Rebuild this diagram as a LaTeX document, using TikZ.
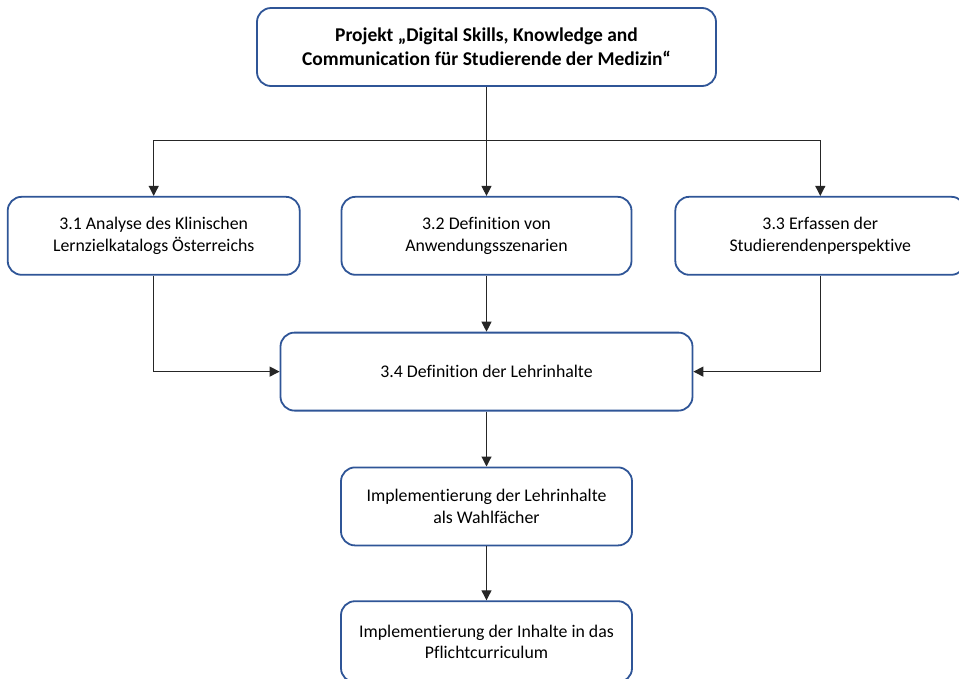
\documentclass[tikz,border=0pt]{standalone}
\usepackage{fontspec}
\setmainfont[Ligatures=NoCommon]{Carlito}
\usepackage{xcolor}
\usetikzlibrary{arrows.meta,positioning,calc}
\definecolor{boxblue}{RGB}{47,85,151}
\definecolor{linegray}{RGB}{38,38,38}

\begin{document}
\begin{tikzpicture}[x=1pt, y=1pt, font=\fontsize{17.8}{21.5}\selectfont,
  box/.style={draw=boxblue, line width=1.8pt, rounded corners=14pt, fill=white,
    align=center, minimum height=78pt, text=black, inner sep=2pt},
  line/.style={draw=linegray, line width=1.1pt},
  arr/.style={line, -{Triangle[width=10pt,length=10pt]}}]
  \clip (0,0) rectangle (959,-678);
  \useasboundingbox (0,0) rectangle (959,-678);
  \node[box,minimum width=459pt,font=\fontsize{19.5}{24}\selectfont\bfseries] (proj) at (486.5,-47)
    {Projekt „Digital Skills, Knowledge and\\Communication für Studierende der Medizin“};
  \node[box,minimum width=290pt,below=109pt of proj] (ana) {3.2 Definition von\\Anwendungsszenarien};
  \node[box,minimum width=292pt,left=40pt of ana] (kat) {3.1 Analyse des Klinischen\\Lernzielkatalogs Österreichs};
  \node[box,minimum width=290pt,right=42pt of ana] (stud) {3.3 Erfassen der\\Studierendenperspektive};
  \node[box,minimum width=412pt,below=56pt of ana] (lehr) {3.4 Definition der Lehrinhalte};
  \node[box,minimum width=291pt,below=55pt of lehr] (wahl) {Implementierung der Lehrinhalte\\als Wahlfächer};
  \node[box,minimum width=291pt,minimum height=81pt,below=54pt of wahl] (pflicht) {Implementierung der Inhalte in das\\Pflichtcurriculum};
  \coordinate[below=54pt of proj] (split);
  \draw[line] (proj.south) -- (split);
  \draw[arr] (split) -| (kat.north);
  \draw[arr] (split) -- (ana.north);
  \draw[arr] (split) -| (stud.north);
  \draw[arr] (kat.south) |- (lehr.west);
  \draw[arr] (ana.south) -- (lehr.north);
  \draw[arr] (stud.south) |- (lehr.east);
  \draw[arr] (lehr.south) -- (wahl.north);
  \draw[arr] (wahl.south) -- (pflicht.north);
\end{tikzpicture}
\end{document}
